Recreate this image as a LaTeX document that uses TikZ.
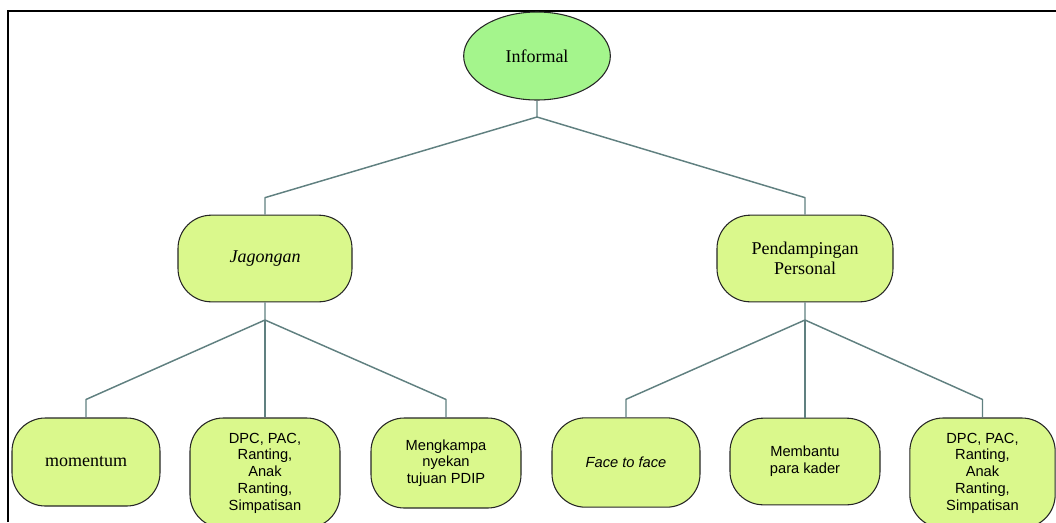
\documentclass[tikz,border=0pt]{standalone}
\usepackage{fontspec}
\setmainfont{Liberation Serif}
\setsansfont{Liberation Sans}
\usetikzlibrary{shapes.geometric,calc}
\definecolor{ellfill}{RGB}{164,245,140}
\definecolor{boxfill}{RGB}{218,248,140}
\definecolor{conncol}{RGB}{96,128,128}
\tikzset{
  serifbox/.style={draw=black!85, line width=0.8pt, fill=boxfill, rounded corners=25pt, align=center,
     font=\fontsize{13.5}{15}\selectfont, inner sep=2pt},
  sansbox/.style={draw=black!85, line width=0.8pt, fill=boxfill, rounded corners=25pt, align=center,
     font=\sffamily\fontsize{11}{12.6}\selectfont, inner sep=2pt},
  conn/.style={draw=conncol, line width=1.1pt, line join=round},
  frameline/.style={draw=black, line width=1.6pt}
}
\begin{document}
\begin{tikzpicture}[x=0.75pt,y=-0.75pt]
\useasboundingbox (0,0) rectangle (1056,522);
\clip (0,0) rectangle (1056,522);
% frame
\draw[frameline] (8,522) -- (8,11) -- (1060,11);

% nodes
\node[ellipse, draw=black!85, line width=0.8pt, fill=ellfill, minimum width=110pt, minimum height=66pt,
      font=\fontsize{13.5}{15}\selectfont] (inf) at (537,56) {Informal};

\node[serifbox, minimum width=130.5pt, minimum height=65pt] (jag) at (265,258.5) {\itshape Jagongan};
\node[serifbox, minimum width=132pt, minimum height=65pt] (pen) at (805,258.5) {Pendampingan\\Personal};

\node[serifbox, minimum width=111pt, minimum height=66pt] (mom) at (86,462) {momentum};
\node[sansbox, minimum width=112.5pt, minimum height=82.5pt] (dpca) at (265,473) {DPC, PAC,\\Ranting,\\Anak\\Ranting,\\Simpatisan};
\node[sansbox, minimum width=112.5pt, minimum height=67.5pt] (mkp) at (446,463) {Mengkampa\\nyekan\\tujuan PDIP};

\node[sansbox, minimum width=111pt, minimum height=67pt] (ftf) at (626,462.5) {\itshape Face to face};
\node[sansbox, minimum width=112.5pt, minimum height=65pt] (mbt) at (805,461.5) {Membantu\\para kader};
\node[sansbox, minimum width=109pt, minimum height=82.5pt] (dpcb) at (982.5,473) {DPC, PAC,\\Ranting,\\Anak\\Ranting,\\Simpatisan};

% junctions
\coordinate (j0) at (537,117);
\coordinate (j1) at (265,320);
\coordinate (j2) at (805,320);

% connectors
\draw[conn] (inf.south) -- (j0) -- ($(jag.north)+(0,-17)$) -- (jag.north);
\draw[conn] (j0) -- ($(pen.north)+(0,-17)$) -- (pen.north);

\draw[conn] (jag.south) -- (j1) -- ($(mom.north)+(0,-18)$) -- (mom.north);
\draw[conn] (j1) -- (dpca.north);
\draw[conn] (j1) -- ($(mkp.north)+(0,-18)$) -- (mkp.north);

\draw[conn] (pen.south) -- (j2) -- ($(ftf.north)+(0,-18)$) -- (ftf.north);
\draw[conn] (j2) -- (mbt.north);
\draw[conn] (j2) -- ($(dpcb.north)+(0,-18)$) -- (dpcb.north);
\end{tikzpicture}
\end{document}
